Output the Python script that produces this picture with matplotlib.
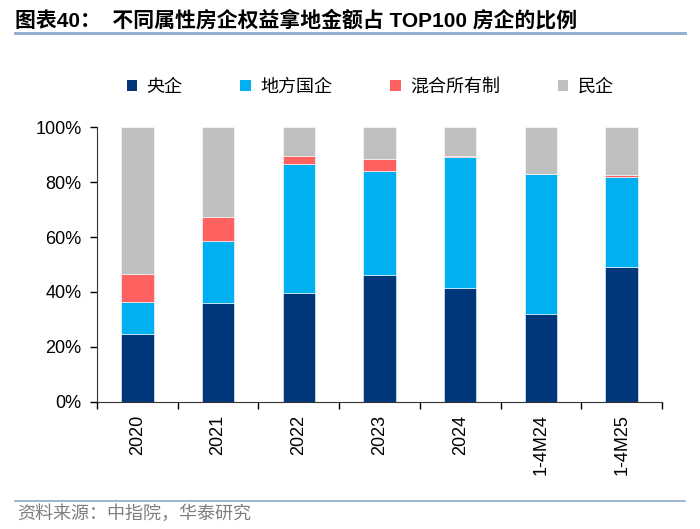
import numpy as np
import matplotlib.pyplot as plt
from matplotlib.lines import Line2D
from matplotlib.patches import Patch

plt.rcParams['font.family'] = ['Liberation Sans', 'Noto Sans CJK SC', 'DejaVu Sans']

categories = ['2020', '2021', '2022', '2023', '2024', '1-4M24', '1-4M25']
central_soe = [24.7, 36.0, 39.6, 46.3, 41.3, 32.0, 49.2]
local_soe = [11.5, 22.5, 46.9, 37.6, 47.7, 50.9, 32.7]
mixed = [10.2, 8.8, 3.0, 4.6, 0.6, 0.1, 0.5]
private = [53.6, 32.7, 10.5, 11.5, 10.4, 17.0, 17.6]

series_names = ['央企', '地方国企', '混合所有制', '民企']
colors = ['#00377A', '#00B0F0', '#FF6161', '#BFBFBF']

fig = plt.figure(figsize=(7, 5.29), dpi=100)
ax = fig.add_axes([0.1386, 0.2401, 0.8071, 0.5198])

x = np.arange(len(categories))
data = [central_soe, local_soe, mixed, private]
bottom = np.zeros(len(categories))
for vals, c in zip(data, colors):
    vals = np.array(vals) / 100.0
    ax.bar(x, vals, width=0.4, bottom=bottom, color=c, edgecolor='white', linewidth=0.4)
    bottom += vals

ax.set_xlim(-0.5, len(categories) - 0.5)
ax.set_ylim(0, 1)
ax.set_yticks(np.arange(0, 1.01, 0.2))
ax.set_yticklabels(['%d%%' % v for v in range(0, 101, 20)], fontsize=13)
ax.set_xticks(x)
ax.set_xticklabels(categories, rotation=90, fontsize=13)
ax.tick_params(axis='x', which='major', length=0, pad=9)
ax.set_xticks(np.arange(-0.5, len(categories), 1.0), minor=True)
ax.tick_params(axis='x', which='minor', length=5, width=1, direction='out')
ax.tick_params(axis='y', length=5, width=1, direction='out', pad=6)
for s in ['top', 'right']:
    ax.spines[s].set_visible(False)
ax.spines['left'].set_color('#333333')
ax.spines['bottom'].set_color('#333333')

handles = [Patch(facecolor=c, edgecolor='none') for c in colors]
fig.legend(handles, series_names, loc='center', bbox_to_anchor=(370 / 700, 1 - 87 / 529), ncol=4,
           frameon=False, prop={'family': ['Noto Sans CJK SC'], 'size': 13},
           handlelength=0.6, handleheight=0.6, handletextpad=0.5, columnspacing=3.2)

fig.text(15 / 700, 1 - 20 / 529, '图表40：  不同属性房企权益拿地金额占 TOP100 房企的比例',
         fontsize=15, fontweight='bold', va='center', ha='left',
         family=['Liberation Sans', 'Noto Sans CJK SC'])
fig.add_artist(Line2D([15 / 700, 685 / 700], [1 - 33 / 529, 1 - 33 / 529],
                      color='#8EA9CC', linewidth=2))
fig.add_artist(Line2D([15 / 700, 685 / 700], [1 - 501 / 529, 1 - 501 / 529],
                      color='#8EA9CC', linewidth=1.2))
fig.text(17 / 700, 1 - 514 / 529, '资料来源：中指院，华泰研究', fontsize=13, color='#7F7F7F',
         va='center', ha='left', family=['Noto Sans CJK SC'])

fig.savefig('out.png', dpi=100)
